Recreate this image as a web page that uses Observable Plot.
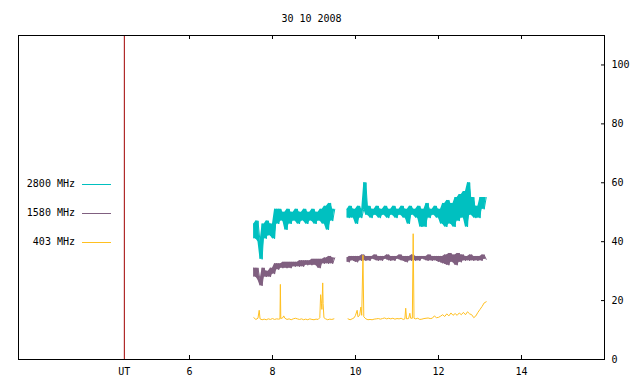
<!DOCTYPE html>
<html>
<head>
<meta charset="utf-8">
<script src="https://cdn.jsdelivr.net/npm/d3@7"></script>
<script src="https://cdn.jsdelivr.net/npm/@observablehq/plot@0.6"></script>
<style>
  html, body { margin: 0; padding: 0; background: white; }
</style>
</head>
<body>
<div id="chart"></div>
<script>
// ---- data ----
const chartTitle = "30 10 2008";
const utTime = 4.43;
const xTickValues = [6, 8, 10, 12, 14];
const yTickValues = [0, 20, 40, 60, 80, 100];
const seriesNames = ["2800 MHz", "1580 MHz", "403 MHz"];
const seriesColors = ["#00c0c0", "#806080", "#ffc020"];

const seg1Start = 7.55;
const seg2Start = 9.80;
const sampleStep = 0.05;

// 2800 MHz
const mhz2800Seg1 = [46, 41, 47, 40, 34, 46, 41, 47, 42, 46, 41,
  51, 46, 51, 47, 50, 44, 51, 46, 50, 47, 51, 46, 50, 47, 51, 46, 50, 47, 51,
  46, 50, 47, 51, 46, 52, 44, 53, 47, 51];
const mhz2800Seg2 = [51, 48, 52, 48, 51, 46, 52, 48, 51, 60,
  49, 52, 48, 51, 49, 52, 48, 51, 49, 52,
  48, 51, 49, 52, 48, 51, 49, 52, 48, 51,
  46, 52, 49, 51, 48, 52, 45, 51, 45, 53,
  48, 51, 49, 52, 48, 51, 46, 53, 45, 54,
  46, 53, 45, 55, 47, 56, 48, 57, 45, 60,
  49, 55, 48, 52, 48, 55, 51, 55];

// 1580 MHz
const mhz1580Seg1 = [31, 28, 31, 27, 25, 31, 28, 30, 28, 31, 29,
  32.5, 30.5, 32.5, 31, 33, 31, 33, 31, 33, 31.5, 33, 31.5, 33.5, 31.5, 33.5,
  32, 33.5, 32, 34, 32, 34, 31, 34, 32.5, 34.5, 32.5, 35, 32.5, 34.5];
const mhz1580Seg2 = [34.5, 33, 35, 33.5, 35, 33, 35, 33.5, 35.5, 33.5,
  35, 33.5, 35, 34, 35.5, 33.5, 35, 33.5, 35, 34,
  35.5, 33.5, 35, 33.5, 35, 34, 35.5, 33.5, 35, 33,
  35, 33.5, 35.5, 33.5, 35, 33.5, 35, 34, 35, 33.5,
  35.5, 33.5, 35, 33.5, 35, 33, 35, 32.5, 35.5, 32,
  36, 33, 35.5, 32, 36, 33, 35.5, 33.5, 35, 33.5,
  35.5, 33.5, 35, 33.5, 35, 33.5, 35.5, 34];

// 403 MHz: [time (UT hours), value]
const mhz403Seg1 = [[7.55,14.2],[7.60,13.6],[7.65,14],[7.68,16.7],[7.70,13.8],[7.75,13.5],[7.80,13.7],
  [7.85,13.5],[7.90,13.8],[7.95,13.6],[8.00,13.9],[8.05,13.6],[8.10,13.8],[8.15,13.7],[8.18,13.8],
  [8.19,25.5],[8.20,13.9],[8.25,14.2],[8.27,14.8],[8.30,14],[8.35,13.6],[8.40,13.8],[8.45,13.5],
  [8.50,13.8],[8.55,14],[8.60,13.8],[8.65,13.6],[8.70,13.8],[8.75,13.5],[8.80,13.7],[8.85,13.5],
  [8.90,13.8],[8.95,13.6],[9.00,13.5],[9.05,13.7],[9.10,13.6],[9.14,14.2],[9.16,22],[9.18,19],
  [9.19,17],[9.21,26],[9.22,19],[9.24,14.2],[9.28,13.8],[9.33,13.5],[9.38,13.7],[9.43,13.6],[9.48,13.8]];
const mhz403Seg2 = [[9.82,13.8],[9.87,13.5],[9.92,13.8],[9.97,14.2],[10.00,15],[10.04,16.7],[10.06,14.5],
  [10.10,15],[10.13,17.8],[10.15,15],[10.18,35.4],[10.20,14.5],[10.25,13.8],[10.30,13.5],[10.35,13.6],
  [10.40,13.5],[10.45,13.7],[10.50,13.8],[10.55,13.9],[10.60,13.7],[10.65,13.9],[10.70,14.1],[10.75,13.8],
  [10.80,14],[10.85,13.8],[10.90,14],[10.95,13.7],[11.00,13.9],[11.05,13.8],[11.10,14],[11.15,13.6],
  [11.19,13.8],[11.21,17.4],[11.23,13.8],[11.28,13.9],[11.31,15.7],[11.33,14],[11.37,14],[11.39,42.7],
  [11.41,14],[11.45,13.8],[11.50,14],[11.55,13.6],[11.60,13.7],[11.65,13.9],[11.70,14],[11.75,14.1],
  [11.80,13.9],[11.85,14],[11.90,14.8],[11.95,14.2],[12.00,14.3],[12.05,14.7],[12.10,15.2],[12.15,14.6],
  [12.20,15.5],[12.25,14.8],[12.30,15.8],[12.35,15],[12.40,15.6],[12.45,15],[12.50,15.8],[12.55,15.2],
  [12.60,16],[12.65,15.2],[12.70,16.2],[12.75,15.5],[12.80,15.2],[12.85,14.2],[12.90,14.8],[12.95,16],
  [13.00,17],[13.05,18],[13.10,19.2],[13.15,19.6]];

// ---- build tables ----
// each row keeps the low and high of its sample and the next one, so the noisy band can be filled
const sampled = (values, start) => values.map((v, i) => {
  const n = i + 1 < values.length ? values[i + 1] : v;
  return {t: start + i * sampleStep, v, lo: Math.min(v, n), hi: Math.max(v, n)};
});
const paired = (pairs) => pairs.map(([t, v]) => ({t, v}));

const bandSegments = [
  {data: sampled(mhz2800Seg1, seg1Start), color: seriesColors[0]},
  {data: sampled(mhz2800Seg2, seg2Start), color: seriesColors[0]},
  {data: sampled(mhz1580Seg1, seg1Start), color: seriesColors[1]},
  {data: sampled(mhz1580Seg2, seg2Start), color: seriesColors[1]}
];
const lineSegments = [
  {data: paired(mhz403Seg1), color: seriesColors[2]},
  {data: paired(mhz403Seg2), color: seriesColors[2]}
];

const font = "DejaVu Sans Mono";

const chart = Plot.plot({
  width: 640,
  height: 384,
  marginLeft: 18,
  marginRight: 36,
  marginTop: 35,
  marginBottom: 25,
  x: {domain: [1.88, 16], label: null},
  y: {domain: [0, 110], label: null},
  style: {fontFamily: font, fontSize: "10px", color: "black", background: "white", overflow: "visible"},
  marks: [
    Plot.ruleX([utTime], {stroke: "#a00000", strokeWidth: 1}),
    ...bandSegments.flatMap(s => [
      Plot.areaY(s.data, {x: "t", y1: "lo", y2: "hi", fill: s.color}),
      Plot.ruleX(s.data, {x: "t", y1: "lo", y2: "hi", stroke: s.color, strokeWidth: 1}),
      Plot.line(s.data, {x: "t", y: "v", stroke: s.color, strokeWidth: 1})
    ]),
    ...lineSegments.map(s => Plot.line(s.data, {x: "t", y: "v", stroke: s.color, strokeWidth: 1})),
    Plot.frame({stroke: "black"}),
    Plot.tickX(xTickValues, {x: d => d, insetTop: 320, stroke: "black"}),
    Plot.tickX(xTickValues, {x: d => d, insetBottom: 320, stroke: "black"}),
    Plot.tickY(yTickValues, {y: d => d, insetLeft: 583, stroke: "black"}),
    Plot.axisX([utTime, ...xTickValues], {tickSize: 0, tickPadding: 8, label: null, tickFormat: d => d === utTime ? "UT" : d}),
    Plot.axisY(yTickValues, {anchor: "right", tickSize: 0, tickPadding: 7, label: null}),
    Plot.text([chartTitle], {frameAnchor: "top", dy: -21, text: d => d})
  ]
});

document.getElementById("chart").appendChild(chart);

// ---- legend (inside the plot area, left side) ----
const legendTextRight = 75, legendLineX1 = 82, legendLineX2 = 111;
const legendTop = 184, legendGap = 29;
const svg = d3.select(chart);
const lg = svg.append("g").attr("font-family", font).attr("font-size", 10);
seriesNames.forEach((name, i) => {
  const y = legendTop + i * legendGap;
  lg.append("text").attr("x", legendTextRight).attr("y", y).attr("dy", "0.32em")
    .attr("text-anchor", "end").attr("fill", "black").text(name);
  lg.append("line").attr("x1", legendLineX1).attr("x2", legendLineX2)
    .attr("y1", y + 0.5).attr("y2", y + 0.5).attr("stroke", seriesColors[i]).attr("stroke-width", 1);
});
</script>
</body>
</html>
